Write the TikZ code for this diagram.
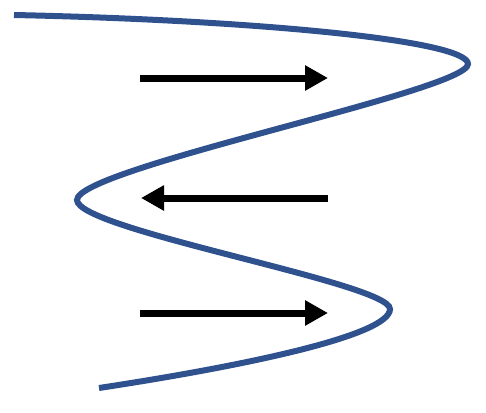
\documentclass[tikz,border=0pt]{standalone}
\usetikzlibrary{arrows.meta}
\definecolor{curveblue}{RGB}{47,82,143}
\begin{document}
\begin{tikzpicture}[x=1pt,y=-1pt,
    flow/.style={line width=7pt,-{Triangle[length=23pt,width=24pt]}}]
    \useasboundingbox (0,0) rectangle (486,412);

    \draw[curveblue,line width=6pt]
      (14,15) .. controls (250,20) and (468,40) .. (468,64)
      .. controls (468,91) and (77,168) .. (77,200)
      .. controls (77,230) and (390,283) .. (390,309)
      .. controls (390,335) and (250,365) .. (99,388);

    \foreach \n/\y/\xa/\xb in {top/78/140/328,mid/198/328/141,low/313/140/328} {
      \coordinate (\n-start) at (\xa,\y);
      \coordinate (\n-end) at (\xb,\y);
      \draw[flow] (\n-start) -- (\n-end);
    }
  \end{tikzpicture}
\end{document}
